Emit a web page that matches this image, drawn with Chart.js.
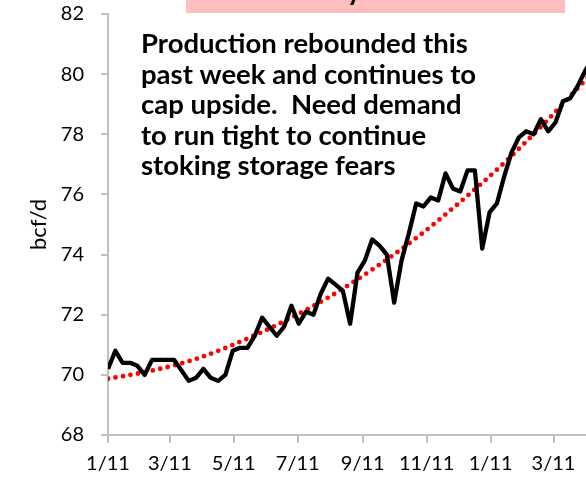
<!DOCTYPE html>
<html>
<head>
<meta charset="utf-8">
<script src="https://cdn.jsdelivr.net/npm/chart.js@4/dist/chart.umd.min.js"></script>
<style>
  html, body { margin: 0; padding: 0; background: #fff; overflow: hidden; }
</style>
</head>
<body>
<canvas id="chart" width="586" height="477"></canvas>
<script>
// weekly dry gas production, first week = Jan 11 2011
const startDate = '2011-01-11';
const production = [
  70.2, 70.8, 70.4, 70.4, 70.3, 70.0, 70.5, 70.5, 70.5, 70.5,
  70.15, 69.8, 69.9, 70.2, 69.9, 69.8, 70.0, 70.8, 70.9, 70.9,
  71.3, 71.9, 71.6, 71.3, 71.6, 72.3, 71.7, 72.1, 72.0, 72.7,
  73.2, 73.0, 72.8, 71.7, 73.4, 73.8, 74.5, 74.3, 74.0, 72.4,
  73.8, 74.7, 75.7, 75.6, 75.9, 75.8, 76.7, 76.2, 76.1, 76.8,
  76.8, 74.2, 75.4, 75.7, 76.6, 77.4, 77.9, 78.1, 78.0, 78.5,
  78.1, 78.4, 79.1, 79.2, 79.6, 80.1, 80.5
];

// trend line (week index -> value)
const trendWeeks = [0, 6, 12, 18, 24, 30, 36, 42, 48, 54, 60, 66];
const trendValues = [69.87, 70.14, 70.53, 71.1, 71.78, 72.57, 73.5, 74.55, 75.75, 77.05, 78.5, 80.05];

const tickDates = ['2011-01-11', '2011-03-11', '2011-05-11', '2011-07-11',
                   '2011-09-11', '2011-11-11', '2012-01-11', '2012-03-11'];
const tickLabels = ['1/11', '3/11', '5/11', '7/11', '9/11', '11/11', '1/11', '3/11'];
const axisEndDate = '2012-04-11';

const yTitle = 'bcf/d';
const titleText = 'Lower 48 Dry Gas Production';
const noteLines = [
  'Production rebounded this',
  'past week and continues to',
  'cap upside.  Need demand',
  'to run tight to continue',
  'stoking storage fears'
];

const dayOf = (s) => Math.round((Date.parse(s) - Date.parse(startDate)) / 86400000);
const tickDays = tickDates.map(dayOf);

const prodPoints = production.map((v, i) => ({ x: i * 7, y: v }));
const trendPoints = trendWeeks.map((w, i) => ({ x: w * 7, y: trendValues[i] }));

const AXIS_GRAY = '#bfbfbf';
const FONT = 'Lato, "Open Sans", sans-serif';

const decorations = {
  id: 'decorations',
  afterDraw(chart) {
    const ctx = chart.ctx;
    ctx.save();
    // clipped title box at the very top
    ctx.fillStyle = '#ffbfbf';
    ctx.fillRect(186, 0, 379, 13);
    ctx.beginPath();
    ctx.rect(186, 0, 379, 13);
    ctx.clip();
    ctx.fillStyle = '#000';
    ctx.font = 'bold 28px ' + FONT;
    ctx.textAlign = 'center';
    ctx.textBaseline = 'alphabetic';
    ctx.fillText(titleText, 376, 0);
    ctx.restore();

    ctx.save();
    ctx.fillStyle = '#000';
    ctx.font = 'bold 27.5px ' + FONT;
    ctx.textAlign = 'left';
    ctx.textBaseline = 'alphabetic';
    noteLines.forEach((line, i) => ctx.fillText(line, 141, 53 + i * 30.6));
    ctx.restore();
  }
};

new Chart(document.getElementById('chart'), {
  type: 'line',
  data: {
    datasets: [
      {
        label: 'Production',
        data: prodPoints,
        borderColor: '#000',
        borderWidth: 4.3,
        pointRadius: 0,
        tension: 0,
        borderJoinStyle: 'round',
        order: 1
      },
      {
        label: 'Trend',
        data: trendPoints,
        borderColor: '#ff0000',
        borderWidth: 4.8,
        borderDash: [0, 7.6],
        borderCapStyle: 'round',
        pointRadius: 0,
        cubicInterpolationMode: 'monotone',
        order: 2
      }
    ]
  },
  options: {
    responsive: false,
    animation: false,
    layout: { padding: 0 },
    plugins: { legend: { display: false }, tooltip: { enabled: false } },
    scales: {
      x: {
        type: 'linear',
        min: 0,
        max: dayOf(axisEndDate),
        afterBuildTicks: (s) => { s.ticks = tickDays.map((d) => ({ value: d })); },
        afterFit: (s) => { s.height = 42; },
        border: { color: AXIS_GRAY, width: 2 },
        grid: { drawOnChartArea: false, color: AXIS_GRAY, lineWidth: 2, tickLength: 8 },
        ticks: {
          autoSkip: false,
          maxRotation: 0,
          padding: 9,
          color: '#000',
          font: { family: FONT, size: 20 },
          callback: (v, i) => tickLabels[i]
        }
      },
      y: {
        min: 68,
        max: 82,
        afterFit: (s) => { s.width = 108; s.paddingTop = 14; s.paddingBottom = 0; },
        border: { color: AXIS_GRAY, width: 2 },
        grid: { drawOnChartArea: false, color: AXIS_GRAY, lineWidth: 2, tickLength: 7 },
        ticks: {
          stepSize: 2,
          padding: 17,
          color: '#000',
          font: { family: FONT, size: 20 }
        },
        title: {
          display: true,
          text: yTitle,
          color: '#000',
          font: { family: FONT, size: 22 },
          padding: { top: 26, bottom: 0 }
        }
      }
    }
  },
  plugins: [decorations]
});
</script>
</body>
</html>
